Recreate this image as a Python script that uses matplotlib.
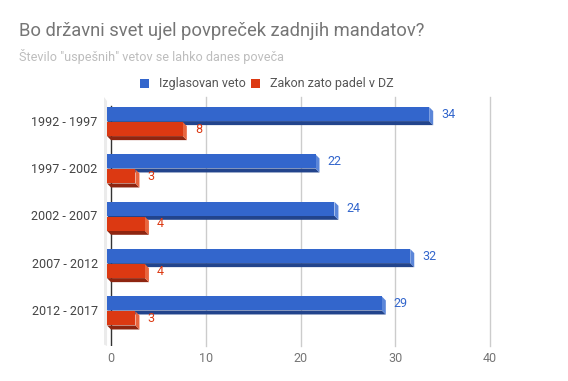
import matplotlib
matplotlib.use('Agg')
import matplotlib.pyplot as plt
from matplotlib.patches import Polygon, Rectangle

# Data
periods = ['1992 - 1997', '1997 - 2002', '2002 - 2007', '2007 - 2012', '2012 - 2017']
veto = [34, 22, 24, 32, 29]
padel = [8, 3, 4, 4, 3]
series_names = ['Izglasovan veto', 'Zakon zato padel v DZ']
xticks = [0, 10, 20, 30, 40]

title = 'Bo državni svet ujel povpreček zadnjih mandatov?'
subtitle = 'Število "uspešnih" vetov se lahko danes poveča'

# Styling
plt.rcParams['font.family'] = ['Roboto', 'DejaVu Sans']
blue = ('#3366cc', '#5b86d9', '#22448c')   # face, side, bottom
red = ('#dc3912', '#e8663f', '#8e2510')
W, H = 568, 381
fig = plt.figure(figsize=(W / 100, H / 100), dpi=100)
ax = fig.add_axes([104 / W, 1 - 346 / H, (491 - 104) / W, (346 - 97) / H])
ax.set_xlim(-0.74, 40.1)
ax.set_ylim(4.73, -0.53)
ax.axis('off')

dx, dy, h = 0.42, 0.085, 0.296


def bar3d(v, yt, cols):
    face, side, bottom = cols
    ax.add_patch(Polygon([(-dx, yt + h), (v - dx, yt + h), (v, yt + h + dy), (0, yt + h + dy)],
                         closed=True, fc=bottom, ec='none', zorder=3))
    ax.add_patch(Polygon([(v - dx, yt), (v, yt + dy), (v, yt + h + dy), (v - dx, yt + h)],
                         closed=True, fc=side, ec='none', zorder=3))
    ax.add_patch(Rectangle((-dx, yt), v, h, fc=face, ec='none', zorder=4))


# grid + left wall + zero line
for t in xticks[1:]:
    ax.plot([t, t], [-0.53, 4.73], color='#cccccc', lw=1, zorder=1, clip_on=False)
    ax.text(t, 4.73 + 0.27, str(t), ha='center', va='center', fontsize=9, color='#757575')
ax.text(0, 4.73 + 0.27, '0', ha='center', va='center', fontsize=9, color='#757575')
ax.add_patch(Polygon([(-0.74, -0.53), (-dx, -0.53 + dy), (-dx, 4.73), (-0.74, 4.73 - 0.03)],
                     closed=True, fc='#ebebeb', ec='none', zorder=1))
ax.plot([0, 0], [-0.33, 4.73], color='#333333', lw=1, zorder=2)

for i, (p, a, b) in enumerate(zip(periods, veto, padel)):
    bar3d(a, i - 0.317, blue)
    bar3d(b, i, red)
    ax.text(a + 0.85, i - 0.317 + h / 2, str(a), ha='left', va='center', fontsize=9, color=blue[0])
    ax.text(b + 0.85, i + h / 2, str(b), ha='left', va='center', fontsize=9, color=red[0])
    ax.text(-1.4, i, p, ha='right', va='center', fontsize=9, color='#444444')

# titles
fig.text(19 / W, 1 - 36 / H, title, ha='left', va='baseline', fontsize=13.25, color='#757575')
fig.text(19 / W, 1 - 61 / H, subtitle, ha='left', va='baseline', fontsize=9.1, color='#bdbdbd')

# legend
for x0, name, col in [(140, series_names[0], blue[0]), (251, series_names[1], red[0])]:
    fig.patches.append(Rectangle((x0 / W, 1 - 88 / H), 9 / W, 9 / H, fc=col, ec='none',
                                 transform=fig.transFigure, figure=fig))
    fig.text((x0 + 19) / W, 1 - 83.5 / H, name, ha='left', va='center', fontsize=9, color='#555555')

fig.savefig('out.png', dpi=100, facecolor='white')
